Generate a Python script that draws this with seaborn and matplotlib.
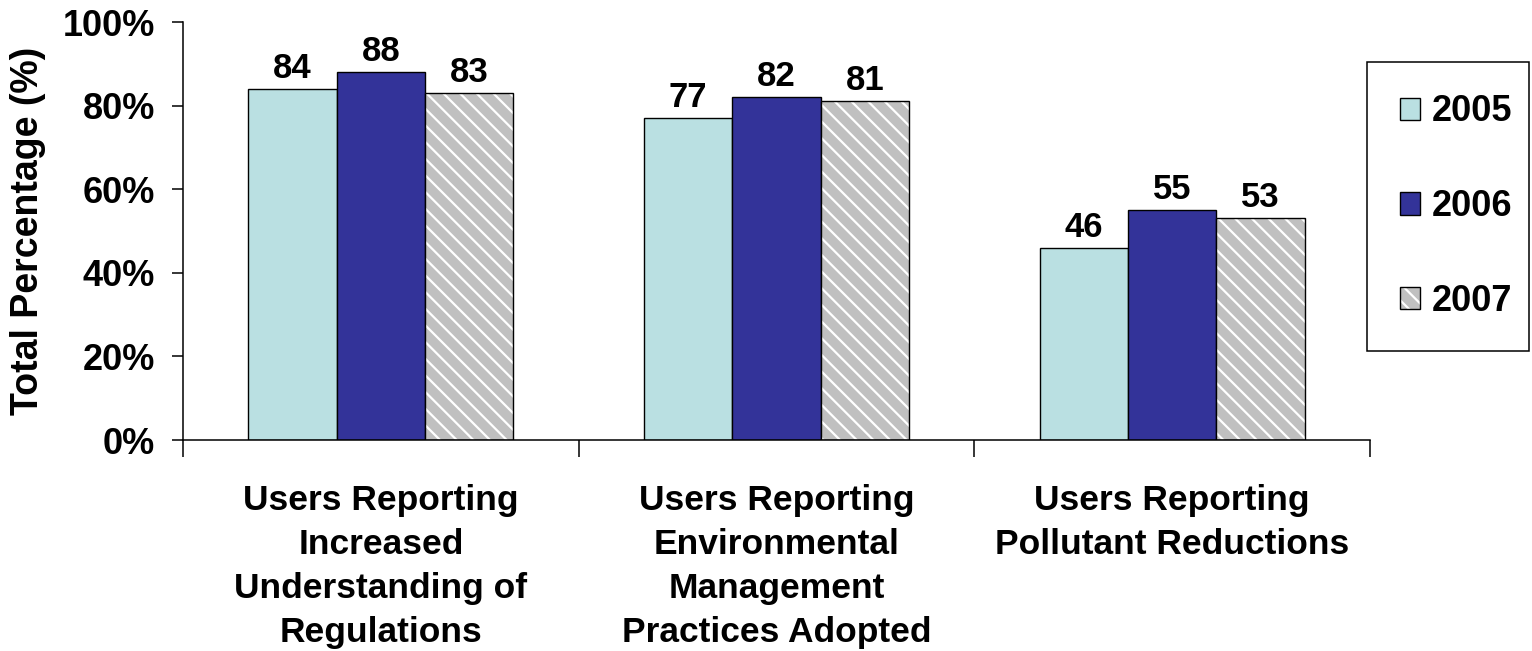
import matplotlib
matplotlib.use("Agg")
import matplotlib.pyplot as plt
from matplotlib.patches import Rectangle, Patch
import seaborn as sns
import pandas as pd

# ---- data ----
categories = [
    "Users Reporting\nIncreased\nUnderstanding of\nRegulations",
    "Users Reporting\nEnvironmental\nManagement\nPractices Adopted",
    "Users Reporting\nPollutant Reductions",
]
years = ["2005", "2006", "2007"]
values_2005 = [84, 77, 46]
values_2006 = [88, 82, 55]
values_2007 = [83, 81, 53]
y_ticks = [0, 20, 40, 60, 80, 100]
y_tick_labels = ["0%", "20%", "40%", "60%", "80%", "100%"]
y_label = "Total Percentage (%)"

colors = ["#BAE0E2", "#333399", "#C0C0C0"]
HATCH = "\\\\"

plt.rcParams['font.family'] = ['Liberation Sans', 'DejaVu Sans']
plt.rcParams['font.weight'] = 'bold'
plt.rcParams['hatch.linewidth'] = 1.6

df = pd.DataFrame({
    "category": categories * 3,
    "year": [years[0]] * 3 + [years[1]] * 3 + [years[2]] * 3,
    "value": values_2005 + values_2006 + values_2007,
})

fig = plt.figure(figsize=(15.32, 6.51), dpi=100)
ax = fig.add_axes([183 / 1532, 1 - 440 / 651, (1370 - 183) / 1532, (440 - 22) / 651])

sns.barplot(data=df, x="category", y="value", hue="year", order=categories,
            hue_order=years, palette=colors, saturation=1, width=0.67,
            edgecolor="black", linewidth=1.0, legend=False, ax=ax)

# bar value labels
for cont in ax.containers:
    ax.bar_label(cont, fmt="%.0f", padding=3, fontsize=25, fontweight="bold")

# hatched 2007 bars: white hatch on grey, black outline
for p in ax.containers[2]:
    p.set_hatch(HATCH)
    p.set_edgecolor("white")
    p.set_linewidth(0)
    ax.add_patch(Rectangle((p.get_x(), p.get_y()), p.get_width(), p.get_height(),
                           fill=False, edgecolor="black", linewidth=1.0,
                           zorder=p.get_zorder() + 0.1))

ax.set_xlim(-0.5, 2.5)
ax.set_ylim(0, 100)
ax.set_yticks(y_ticks)
ax.set_yticklabels(y_tick_labels)
ax.set_xlabel("")
ax.set_ylabel(y_label, fontsize=27, fontweight="bold", labelpad=12)

ax.set_xticks([-0.5, 0.5, 1.5, 2.5], minor=True)
ax.tick_params(axis="x", which="minor", length=12, width=1.1, direction="out")
ax.tick_params(axis="x", which="major", length=0, pad=32, labelsize=25.5)
ax.tick_params(axis="y", length=8, width=1.1, direction="out", pad=12, labelsize=26)
for lab in ax.get_xticklabels():
    lab.set_fontweight("bold")
    lab.set_linespacing(1.42)
for lab in ax.get_yticklabels():
    lab.set_fontweight("bold")

for s in ["top", "right"]:
    ax.spines[s].set_visible(False)
for s in ["left", "bottom"]:
    ax.spines[s].set_linewidth(1.1)
    ax.spines[s].set_color("black")

# legend
handles = [
    Patch(facecolor=colors[0], edgecolor="black", linewidth=1.0),
    Patch(facecolor=colors[1], edgecolor="black", linewidth=1.0),
    (Patch(facecolor=colors[2], edgecolor="white", linewidth=0, hatch=HATCH),
     Patch(fill=False, edgecolor="black", linewidth=1.0)),
]
leg_top = 1 - 62 / 651
leg = fig.legend(handles, years, loc="upper left", mode="expand",
                 bbox_to_anchor=(1367 / 1532, leg_top - 0.3, 162 / 1532, 0.3),
                 borderaxespad=0,
                 frameon=True, fancybox=False, framealpha=1, edgecolor="black",
                 prop={"size": 26, "weight": "bold"}, handlelength=0.58,
                 handleheight=0.58, handletextpad=0.3, labelspacing=1.65,
                 borderpad=0.9)
leg.get_frame().set_linewidth(1.1)

fig.savefig("out.png", dpi=100)
